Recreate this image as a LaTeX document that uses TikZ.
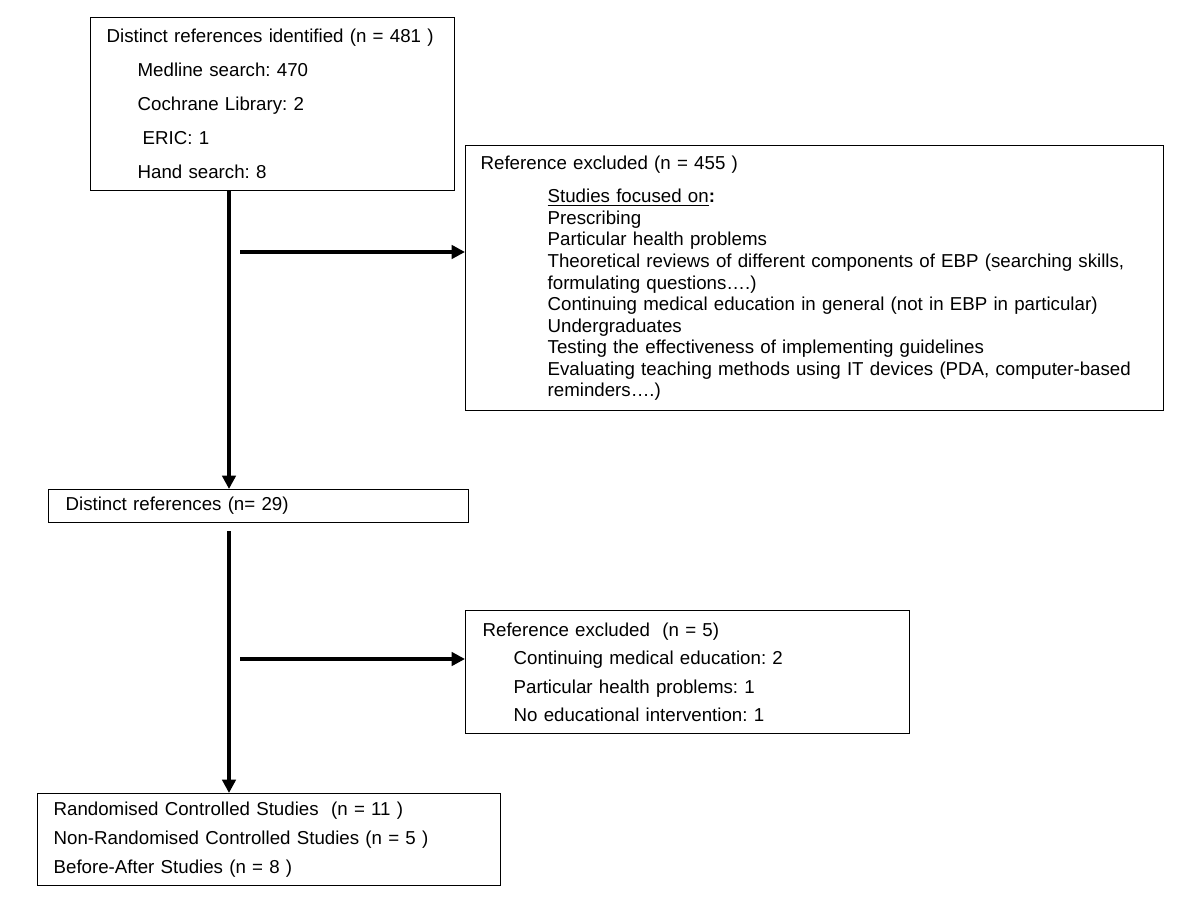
\documentclass[tikz,border=0pt]{standalone}
\usepackage{fontspec}
\setmainfont{Liberation Sans}
\usetikzlibrary{arrows.meta}
\frenchspacing
\tikzset{
	flowbox/.style={draw=black, line width=0.9pt, anchor=north west, align=left, inner ysep=0pt},
	flowarrow/.style={line width=2.8pt, -{Triangle[length=9.5pt,width=9.5pt]}}
}

\begin{document}
\begin{tikzpicture}[x=0.025cm, y=-0.025cm]
		%%%%% START %%%%%
		\useasboundingbox (0, 0) rectangle (1200, 911);
		
		\node[flowbox, minimum width=9.1cm, minimum height=4.325cm, inner xsep=0.4cm, text width=8.3cm,
			font=\fontsize{13.3}{24.2}\selectfont] (ident) at (90, 17)
			{Distinct references identified (n = 481 )\\
			\hspace{0.775cm}Medline search: 470\\
			\hspace{0.775cm}Cochrane Library: 2\\
			\hspace{0.9cm}ERIC: 1\\
			\hspace{0.775cm}Hand search: 8};
		
		\node[flowbox, minimum width=17.45cm, minimum height=6.625cm, inner xsep=0.375cm, text width=16.7cm,
			font=\fontsize{13.3}{15.3}\selectfont] (excl1) at (465, 145)
			{Reference excluded (n = 455 )\\[0.3cm]
			\hspace{1.675cm}\underline{Studies focused on}\textbf{:}\\
			\hspace{1.675cm}Prescribing\\
			\hspace{1.675cm}Particular health problems\\
			\hspace{1.675cm}Theoretical reviews of different components of EBP (searching skills,\\
			\hspace{1.675cm}formulating questions….)\\
			\hspace{1.675cm}Continuing medical education in general (not in EBP in particular)\\
			\hspace{1.675cm}Undergraduates\\
			\hspace{1.675cm}Testing the effectiveness of implementing guidelines\\
			\hspace{1.675cm}Evaluating teaching methods using IT devices (PDA, computer-based\\
			\hspace{1.675cm}reminders….)};
		
		\node[flowbox, minimum width=10.5cm, minimum height=0.825cm, inner xsep=0.425cm, text width=9.65cm,
			font=\fontsize{13.3}{15.2}\selectfont] (dist) at (48, 489)
			{Distinct references (n= 29)};
		
		\node[flowbox, minimum width=11.1cm, minimum height=3.075cm, inner xsep=0.425cm, text width=10.25cm,
			font=\fontsize{13.3}{20.3}\selectfont] (excl2) at (465, 610)
			{Reference excluded\ \ (n = 5)\\
			\hspace{0.775cm}Continuing medical education: 2\\
			\hspace{0.775cm}Particular health problems: 1\\
			\hspace{0.775cm}No educational intervention: 1};
		
		\node[flowbox, minimum width=11.575cm, minimum height=2.3cm, inner xsep=0.4cm, text width=10.775cm,
			font=\fontsize{13.3}{20.6}\selectfont] (studies) at (37, 793)
			{Randomised Controlled Studies\ \ (n = 11 )\\
			Non-Randomised Controlled Studies (n = 5 )\\
			Before-After Studies (n = 8 )};
		
		% main line and side branches
		\coordinate (stem) at (229, 0);
		\coordinate (branch1) at (240, 252);
		\coordinate (branch2) at (240, 659);
		
		\draw[flowarrow] (ident.south -| stem) -- (stem |- dist.north);
		\draw[flowarrow, shorten <=8*0.025cm] (dist.south -| stem) -- (stem |- studies.north);
		\draw[flowarrow] (branch1) -- (branch1 -| excl1.west);
		\draw[flowarrow] (branch2) -- (branch2 -| excl2.west);
		%%%%% END %%%%%
\end{tikzpicture}
\end{document}
